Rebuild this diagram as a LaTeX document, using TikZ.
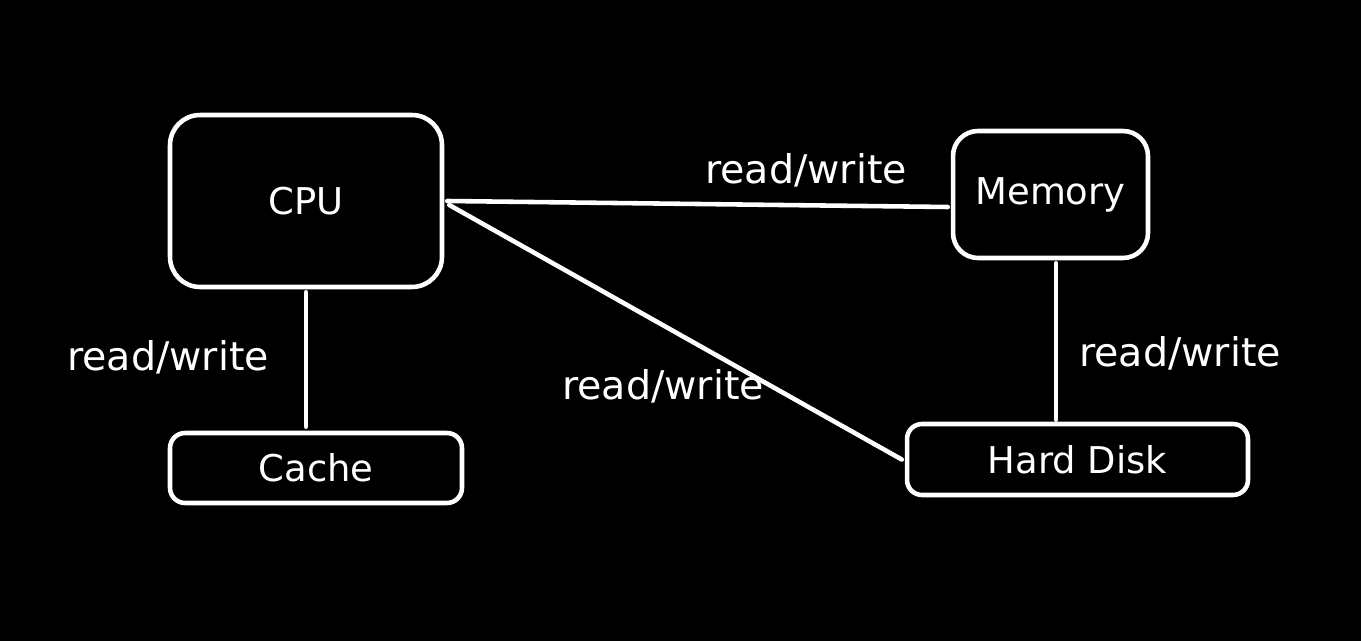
\documentclass[tikz,border=0pt]{standalone}
\usepackage{fontspec}
\setmainfont{DejaVu Sans}
\usetikzlibrary{calc}
\begin{document}
\begin{tikzpicture}[x=0.02cm,y=-0.02cm,
  box/.style={draw=white,line width=2.6pt,inner sep=0pt,font=\fontsize{21}{25}\selectfont,text=white},
  conn/.style={draw=white,line width=2.6pt,line cap=round},
  lbl/.style={text=white,inner sep=0pt,font=\fontsize{22.5}{27}\selectfont}]
\fill[black] (0,0) rectangle (1361,641);
\useasboundingbox (0,0) rectangle (1361,641);
\node[box,rounded corners=0.6cm,minimum width=5.44cm,minimum height=3.44cm] (cpu) at (306,201) {CPU};
\node[box,rounded corners=0.5cm,minimum width=3.9cm,minimum height=2.54cm] (mem) at (1050.5,194.5) {Memory};
\node[box,rounded corners=0.3cm,minimum width=5.84cm,minimum height=1.4cm] (cache) at (316,468) {Cache};
\node[box,rounded corners=0.3cm,minimum width=6.82cm,minimum height=1.42cm] (hd) at (1077.5,459.5) {Hard Disk};
\draw[conn] ([xshift=0.06cm]cpu.east) -- ([xshift=-0.06cm,yshift=-0.25cm]mem.west);
\draw[conn] ([xshift=0.1cm,yshift=-0.08cm]cpu.east) -- ([xshift=-0.06cm]hd.west);
\draw[conn] ([yshift=-0.06cm]cpu.south) -- ([yshift=0.08cm]cpu.south |- cache.north);
\draw[conn] ([xshift=0.11cm,yshift=-0.06cm]mem.south) -- ([xshift=0.11cm,yshift=0.04cm]mem.south |- hd.north);
\node[lbl] (l1) at (806,170) {read/write};
\node[lbl] (l2) at (168,357) {read/write};
\node[lbl] (l3) at (663,386) {read/write};
\node[lbl] (l4) at (1180,353) {read/write};
\end{tikzpicture}
\end{document}
